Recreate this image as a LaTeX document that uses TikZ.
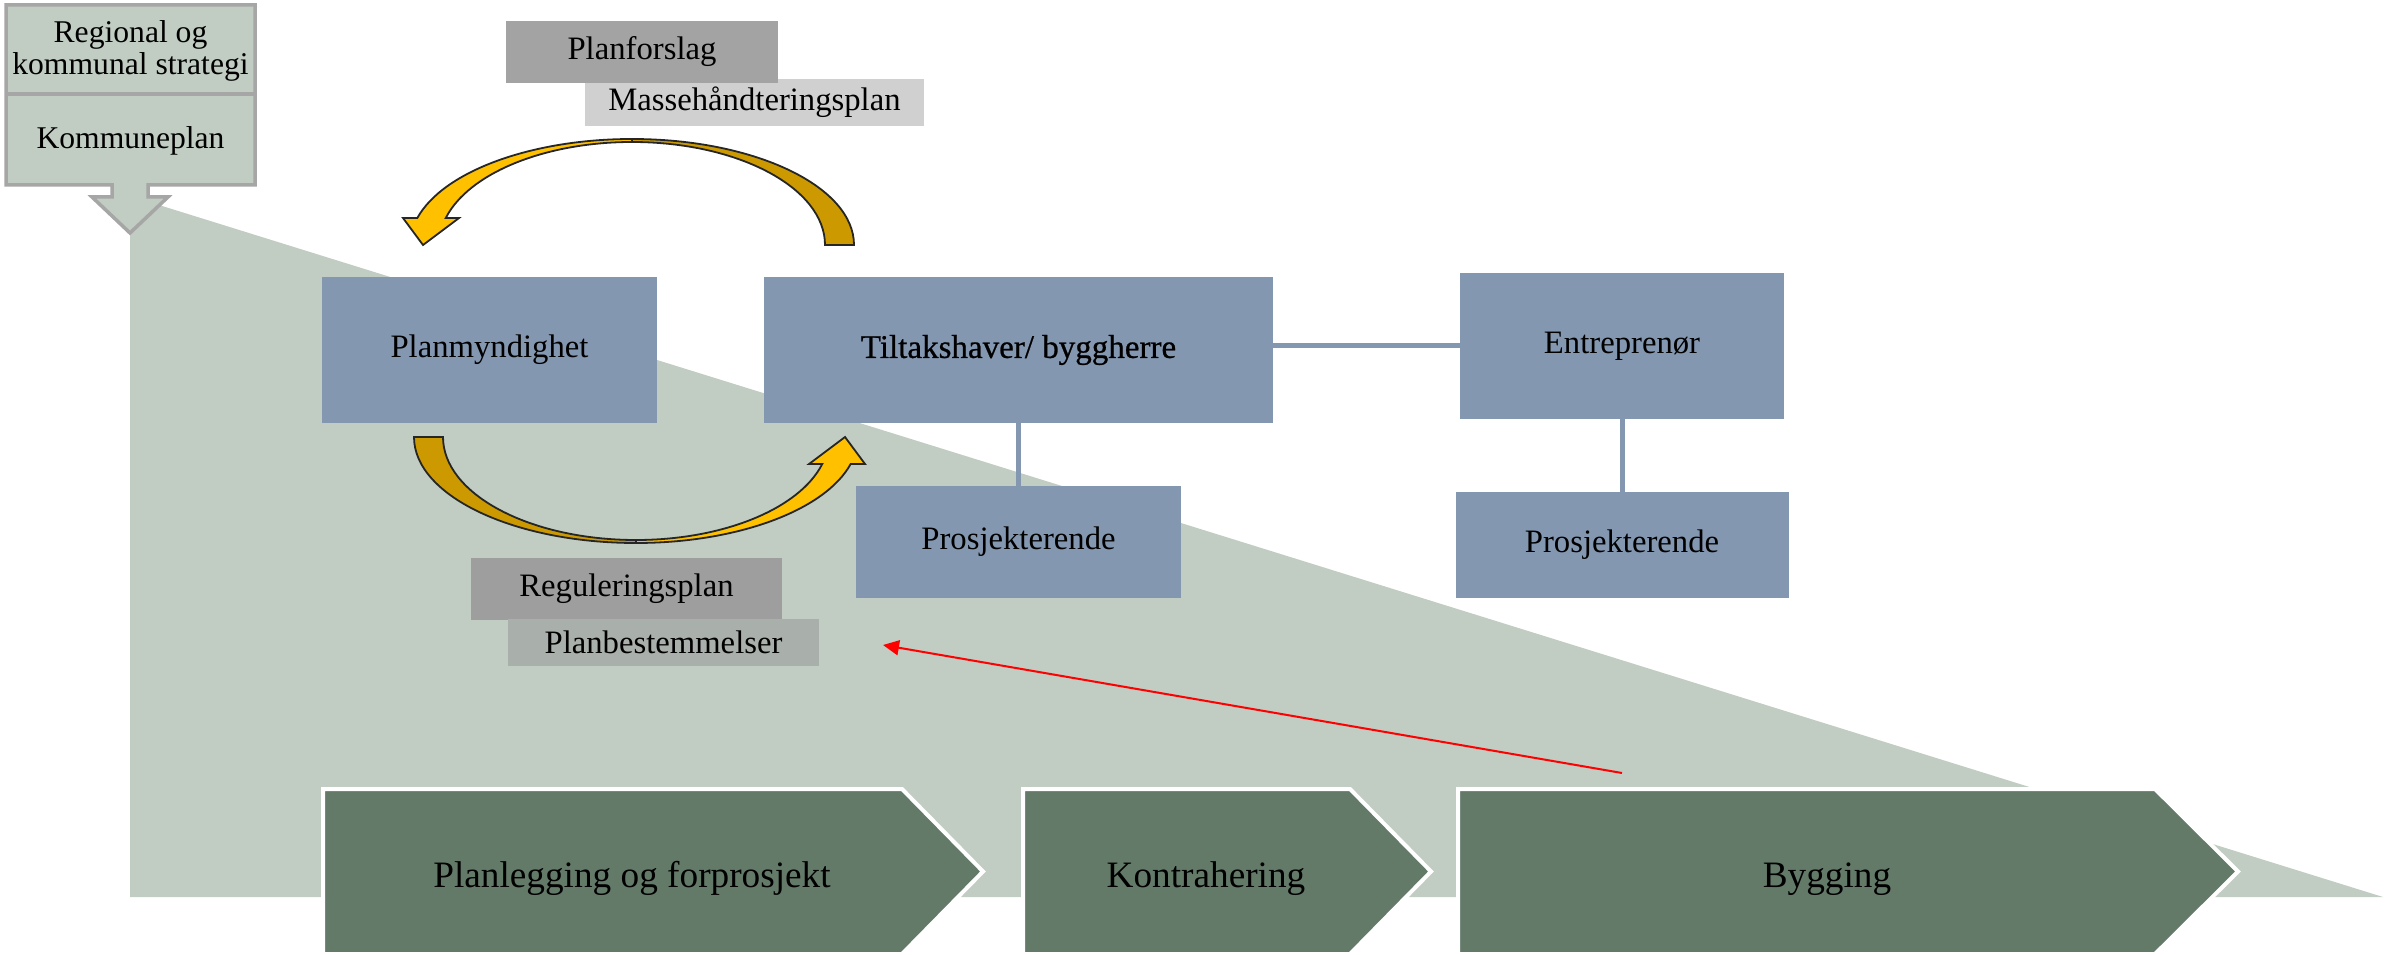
\documentclass[tikz,border=0pt]{standalone}
\usepackage{fontspec}
\setmainfont{Liberation Serif}
\newfontfamily\tiltakfont{Liberation Serif}[FakeBold=0.7]
\usepackage{xcolor}
\usepackage{tikz}
\usetikzlibrary{arrows.meta}

\definecolor{sage}{HTML}{C1CCC2}
\definecolor{boxblue}{HTML}{8497B0}
\definecolor{phasegreen}{HTML}{647A69}
\definecolor{calloutgray}{HTML}{A6A6A6}
\definecolor{tagdark}{HTML}{A3A3A3}
\definecolor{tagdarker}{HTML}{9E9E9E}
\definecolor{taglight}{HTML}{D0D0D0}
\definecolor{tagmid}{HTML}{A9AFAA}
\definecolor{goldlight}{HTML}{FFC000}
\definecolor{golddark}{HTML}{CC9A00}

\tikzset{
  orgbox/.style={fill=boxblue, inner sep=0pt, outer sep=0pt, font=\fontsize{9.3}{11}\selectfont},
  tag/.style={inner sep=0pt, outer sep=0pt, font=\fontsize{9.3}{11}\selectfont},
  link/.style={draw=boxblue, line width=0.5mm},
  phase/.style={fill=phasegreen, draw=white, line width=0.4mm},
  phasetext/.style={font=\fontsize{10.6}{12}\selectfont},
  bendline/.style={draw=black!85, line width=0.18mm},
  planloop/.pic={
    % dark half (tail)
    \draw[bendline, fill=golddark] (0:222 and 106)
        arc[start angle=0, end angle=90, x radius=222, y radius=106]
        -- (0,103) arc[start angle=90, end angle=0, x radius=193, y radius=103] -- cycle;
    % light half with head
    \draw[bendline, fill=goldlight] (90:222 and 106)
        arc[start angle=90, end angle=165.24, x radius=222, y radius=106]
        -- (-229,27) -- (-209,0) -- (-173,27)
        -- (164.8:193 and 103) arc[start angle=164.8, end angle=90, x radius=193, y radius=103] -- cycle;
  }
}

\begin{document}
\begin{tikzpicture}[x=0.1mm, y=0.1mm]
  \useasboundingbox (0,0) rectangle (2388,954);

  % background wedge
  \fill[sage] (130,758) -- (2383,57) -- (130,57) -- cycle;

  % strategy / kommuneplan callout
  \draw[fill=sage, draw=calloutgray, line width=0.35mm]
      (6,949) -- (255,949) -- (255,769) -- (148,769) -- (148,757) -- (168,757)
      -- (130,721) -- (92,757) -- (112,757) -- (112,769) -- (6,769) -- cycle;
  \draw[calloutgray, line width=0.35mm] (6,860) -- (255,860);
  \node[align=center, font=\fontsize{9}{8}\selectfont] (strategi) at (130.5,903) {Regional og\\kommunal strategi};
  \node[font=\fontsize{9}{11}\selectfont] (kplan) at (130.5,813) {Kommuneplan};

  % actors
  \node[orgbox, minimum width=33.5mm, minimum height=14.6mm] (plan) at (489.5,604) {Planmyndighet};
  \node[orgbox, minimum width=50.9mm, minimum height=14.6mm, font=\fontsize{9.4}{11}\tiltakfont] (tiltak) at (1018.5,604) {Tiltakshaver/ byggherre};
  \node[orgbox, minimum width=32.4mm, minimum height=14.6mm] (entr) at (1622,608) {Entreprenør};
  \node[orgbox, minimum width=32.5mm, minimum height=11.2mm] (prosjA) at (1018.5,412) {Prosjekterende};
  \node[orgbox, minimum width=33.3mm, minimum height=10.6mm] (prosjB) at (1622,409) {Prosjekterende};

  \draw[link] (tiltak.east |- entr.west) -- (entr.west);
  \draw[link] (tiltak) -- (prosjA);
  \draw[link] (entr) -- (prosjB);

  % documents
  \node[tag, fill=taglight, minimum width=33.9mm, minimum height=4.7mm] (masse) at (754.5,851.5) {Massehåndteringsplan};
  \node[tag, fill=tagdark, minimum width=27.2mm, minimum height=6.2mm] (planforslag) at (642,902) {Planforslag};
  \node[tag, fill=tagdarker, minimum width=31.1mm, minimum height=6.2mm] (regul) at (626.5,365) {Reguleringsplan};
  \node[tag, fill=tagmid, minimum width=31.1mm, minimum height=4.7mm] (planbest) at (663.5,311.5) {Planbestemmelser};

  % loop arrows
  \pic at (632,709) {planloop};
  \pic[rotate=180] at (636,517) {planloop};

  % phases
  \foreach \lft/\bdy/\tip/\tx/\nm/\txt in {
      323/902/983/632/planlegging/Planlegging og forprosjekt,
      1023/1350/1431/1206/kontrahering/Kontrahering,
      1458/2155/2238/1827/bygging/Bygging}{
    \draw[phase] (\lft,165) -- (\bdy,165) -- (\tip,82.5) -- (\bdy,0) -- (\lft,0) -- cycle;
    \node[phasetext, anchor=base] (\nm) at (\tx,67) {\txt};
  }

  % feedback
  \coordinate (fbstart) at (1622,181);
  \coordinate (fbend) at (883,309);
  \draw[red, line width=0.2mm, -{Triangle[length=1.6mm, width=1.5mm]}] (fbstart) -- (fbend);

\end{tikzpicture}
\end{document}
